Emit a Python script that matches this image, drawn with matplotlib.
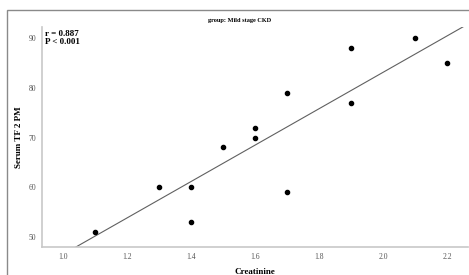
import numpy as np
import matplotlib
matplotlib.use("Agg")
import matplotlib.pyplot as plt
from matplotlib.patches import Rectangle

# ---- data ----
creatinine = [1.1, 1.3, 1.4, 1.4, 1.5, 1.6, 1.6, 1.7, 1.7, 1.9, 1.9, 2.1, 2.2]
serum_tf2pm = [51, 60, 60, 53, 68, 70, 72, 79, 59, 88, 77, 90, 85]
x_ticks = [1.0, 1.2, 1.4, 1.6, 1.8, 2.0, 2.2]
y_ticks = [50, 60, 70, 80, 90]

plt.rcParams['font.family'] = ['Liberation Serif', 'DejaVu Serif']

fig = plt.figure(figsize=(4.69, 2.75), dpi=100)
ax = fig.add_axes([0.0896, 0.1018, 0.9084, 0.80])

# outer frame
fig.patches.append(Rectangle((7 / 469, -0.1), 1.2, (275 - 10) / 275 + 0.1,
                             transform=fig.transFigure, fill=False,
                             edgecolor='#8a8a8a', linewidth=1.0))

ax.scatter(creatinine, serum_tf2pm, s=9, color='black', zorder=3)

# least squares fit line across the plot
slope, intercept = np.polyfit(creatinine, serum_tf2pm, 1)
xs = np.array([0.9, 2.3])
ax.plot(xs, slope * xs + intercept, color='#606060', linewidth=0.8)

ax.set_xlim(0.934, 2.266)
ax.set_ylim(48, 92.2)
ax.set_xticks(x_ticks)
ax.set_xticklabels([f"{v:.1f}" for v in x_ticks])
ax.set_yticks(y_ticks)

for s in ['top', 'right']:
    ax.spines[s].set_visible(False)
for s in ['left', 'bottom']:
    ax.spines[s].set_color('#c8c8c8')
    ax.spines[s].set_linewidth(1.2)
ax.tick_params(length=0, labelsize=5.5, colors='#555555', pad=4)

ax.set_xlabel("Creatinine", fontsize=6.5, fontweight='bold', labelpad=5)
ax.set_ylabel("Serum TF 2 PM", fontsize=6.5, fontweight='bold', labelpad=4)
fig.text(0.51, 0.925, "group: Mild stage CKD", fontsize=4.5, fontweight='bold',
         ha='center', va='center')
ax.text(0.008, 0.985, "r = 0.887\nP < 0.001", transform=ax.transAxes,
        fontsize=6.5, fontweight='bold', va='top', ha='left', linespacing=0.95)

fig.savefig("out.png", dpi=100)
